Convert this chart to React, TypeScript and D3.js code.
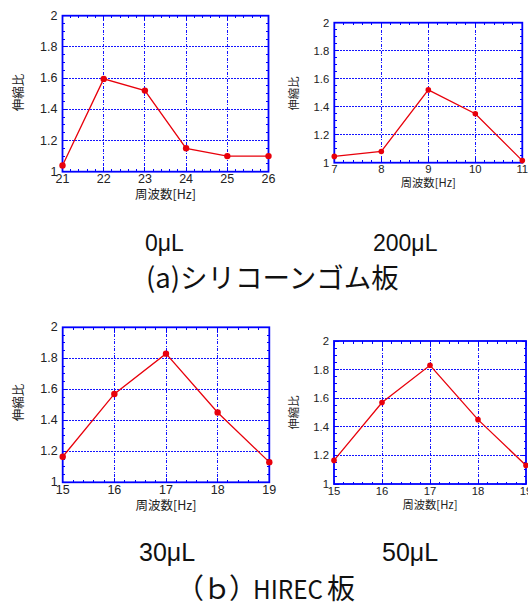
import React from "react";
import * as d3 from "d3";

// Frequency sweep results: stretch ratio (伸縮比) vs. drive frequency [Hz]
const freq0uL = [21, 22, 23, 24, 25, 26];
const ratio0uL = [1.04, 1.595, 1.52, 1.15, 1.1, 1.1];

const freq200uL = [7, 8, 9, 10, 11];
const ratio200uL = [1.045, 1.08, 1.52, 1.35, 1.015];

const freq30uL = [15, 16, 17, 18, 19];
const ratio30uL = [1.165, 1.57, 1.83, 1.45, 1.13];

const freq50uL = [15, 16, 17, 18, 19];
const ratio50uL = [1.165, 1.57, 1.83, 1.45, 1.13];

const ratioTicks = [1, 1.2, 1.4, 1.6, 1.8, 2];

const xTitle = "周波数[Hz]";
const yTitle = "伸縮比";
const volumeLabels = ["0μL", "200μL", "30μL", "50μL"];
const titleA = "(a)シリコーンゴム板";
const titleB = ["（", "ｂ", "）", "HIREC", "板"];

const BLUE = "#0000ff";
const GRID = "#1414ff";
const RED = "#e8000b";
const SANS = "'Liberation Sans', Arial, sans-serif";
const JP = "'Noto Sans CJK JP', sans-serif";

type Box = { left: number; right: number; top: number; bottom: number };
type PanelProps = {
  freq: number[];
  ratio: number[];
  box: Box;
  tickSize: number;
  titleSize: number;
  xTitleY: number;
  yTitleX: number;
  yTitleY: number;
  r: number;
};

function Panel({ freq, ratio, box, tickSize, titleSize, xTitleY, yTitleX, yTitleY, r }: PanelProps) {
  const x = d3.scaleLinear().domain([d3.min(freq)!, d3.max(freq)!]).range([box.left, box.right]);
  const y = d3.scaleLinear().domain([1, 2]).range([box.bottom, box.top]);
  const line = d3
    .line<number>()
    .x((_, i) => x(freq[i]))
    .y((d) => y(d));

  const xd = x.domain();
  const minorX: number[] = [];
  for (let v = xd[0]; v <= xd[1] + 1e-9; v += 0.2) minorX.push(v);
  const minorY: number[] = [];
  for (let v = 1; v <= 2 + 1e-9; v += 0.05) minorY.push(v);

  return (
    <g>
      {/* grid */}
      <g shapeRendering="crispEdges">
        {ratioTicks.slice(1, -1).map((t) => (
          <line key={"gy" + t} x1={box.left} x2={box.right} y1={y(t)} y2={y(t)} stroke={GRID} strokeWidth={1} strokeDasharray="2,1" />
        ))}
        {freq.slice(1, -1).map((f) => (
          <line key={"gx" + f} x1={x(f)} x2={x(f)} y1={box.top} y2={box.bottom} stroke={GRID} strokeWidth={1} strokeDasharray="3,1.5,1,1.5" />
        ))}
        {/* minor ticks */}
        {minorX.map((v, i) => (
          <g key={"mx" + i}>
            <line x1={x(v)} x2={x(v)} y1={box.bottom} y2={box.bottom - 2.5} stroke={BLUE} strokeWidth={1} />
            <line x1={x(v)} x2={x(v)} y1={box.top} y2={box.top + 2.5} stroke={BLUE} strokeWidth={1} />
          </g>
        ))}
        {minorY.map((v, i) => (
          <g key={"my" + i}>
            <line x1={box.left} x2={box.left + 2.5} y1={y(v)} y2={y(v)} stroke={BLUE} strokeWidth={1} />
            <line x1={box.right} x2={box.right - 2.5} y1={y(v)} y2={y(v)} stroke={BLUE} strokeWidth={1} />
          </g>
        ))}
        {/* major ticks */}
        {freq.map((f) => (
          <g key={"tx" + f}>
            <line x1={x(f)} x2={x(f)} y1={box.bottom} y2={box.bottom - 4.5} stroke={BLUE} strokeWidth={1} />
            <line x1={x(f)} x2={x(f)} y1={box.top} y2={box.top + 4.5} stroke={BLUE} strokeWidth={1} />
          </g>
        ))}
        {ratioTicks.map((t) => (
          <g key={"ty" + t}>
            <line x1={box.left} x2={box.left + 4.5} y1={y(t)} y2={y(t)} stroke={BLUE} strokeWidth={1} />
            <line x1={box.right} x2={box.right - 4.5} y1={y(t)} y2={y(t)} stroke={BLUE} strokeWidth={1} />
          </g>
        ))}
      </g>
      {/* frame */}
      <rect x={box.left} y={box.top} width={box.right - box.left} height={box.bottom - box.top} fill="none" stroke={BLUE} strokeWidth={1.8} />
      {/* data */}
      <path d={line(ratio) || ""} fill="none" stroke={RED} strokeWidth={1.3} />
      {ratio.map((v, i) => (
        <circle key={"p" + i} cx={x(freq[i])} cy={y(v)} r={r} fill={RED} />
      ))}
      {/* tick labels */}
      {ratioTicks.map((t) => (
        <text key={"ly" + t} x={box.left - 5} y={y(t)} textAnchor="end" dominantBaseline="central" fontFamily={SANS} fontSize={tickSize} fill="#222">
          {String(+t.toFixed(1))}
        </text>
      ))}
      {freq.map((f) => (
        <text key={"lx" + f} x={x(f)} y={box.bottom + tickSize * 0.93} textAnchor="middle" fontFamily={SANS} fontSize={tickSize} fill="#222">
          {f}
        </text>
      ))}
      {/* axis titles */}
      <text x={(box.left + box.right) / 2} y={xTitleY} textAnchor="middle" fontFamily={JP} fontSize={titleSize} fill="#222">
        {xTitle}
      </text>
      <text
        x={yTitleX}
        y={yTitleY}
        transform={`rotate(-90 ${yTitleX} ${yTitleY})`}
        textAnchor="middle"
        dominantBaseline="central"
        fontFamily={JP}
        fontSize={titleSize}
        fill="#222"
      >
        {yTitle}
      </text>
    </g>
  );
}

export default function App() {
  return (
    <svg width={528} height={602} style={{ position: "absolute", left: 0, top: 0, background: "#fff" }}>
      <Panel
        freq={freq0uL}
        ratio={ratio0uL}
        box={{ left: 62.5, right: 268.5, top: 15.7, bottom: 171.7 }}
        tickSize={12.5}
        titleSize={12.5}
        xTitleY={198.5}
        yTitleX={17.5}
        yTitleY={92.5}
        r={3.2}
      />
      <Panel
        freq={freq200uL}
        ratio={ratio200uL}
        box={{ left: 334.3, right: 522.3, top: 22.7, bottom: 162.7 }}
        tickSize={11.3}
        titleSize={11.3}
        xTitleY={186.5}
        yTitleX={292.5}
        yTitleY={93.5}
        r={2.8}
      />
      <Panel
        freq={freq30uL}
        ratio={ratio30uL}
        box={{ left: 62.7, right: 269.3, top: 327.3, bottom: 482.3 }}
        tickSize={12.5}
        titleSize={12.5}
        xTitleY={509.5}
        yTitleX={17.5}
        yTitleY={402.5}
        r={3.2}
      />
      <Panel
        freq={freq50uL}
        ratio={ratio50uL}
        box={{ left: 334, right: 526, top: 341, bottom: 484 }}
        tickSize={11.3}
        titleSize={11.3}
        xTitleY={508.5}
        yTitleX={292.5}
        yTitleY={412.5}
        r={2.8}
      />

      {/* sample volume labels and group titles */}
      <text x={145} y={251} fontFamily={SANS} fontSize={23} fill="#111">{volumeLabels[0]}</text>
      <text x={373} y={251} fontFamily={SANS} fontSize={23} fill="#111">{volumeLabels[1]}</text>
      <text x={146} y={288} fontFamily={JP} fontSize={27.5} fill="#111">{titleA}</text>

      <text x={139} y={561} fontFamily={SANS} fontSize={25} fill="#111">{volumeLabels[2]}</text>
      <text x={382} y={561} fontFamily={SANS} fontSize={25} fill="#111">{volumeLabels[3]}</text>
      <text y={599} fontFamily={JP} fill="#111">
        <tspan x={176} fontSize={28}>{titleB[0]}</tspan>
        <tspan x={203} fontSize={28}>{titleB[1]}</tspan>
        <tspan x={229} fontSize={28}>{titleB[2]}</tspan>
        <tspan x={253} fontSize={25} textLength={70} lengthAdjust="spacingAndGlyphs">{titleB[3]}</tspan>
        <tspan x={327} fontSize={28}>{titleB[4]}</tspan>
      </text>
    </svg>
  );
}
